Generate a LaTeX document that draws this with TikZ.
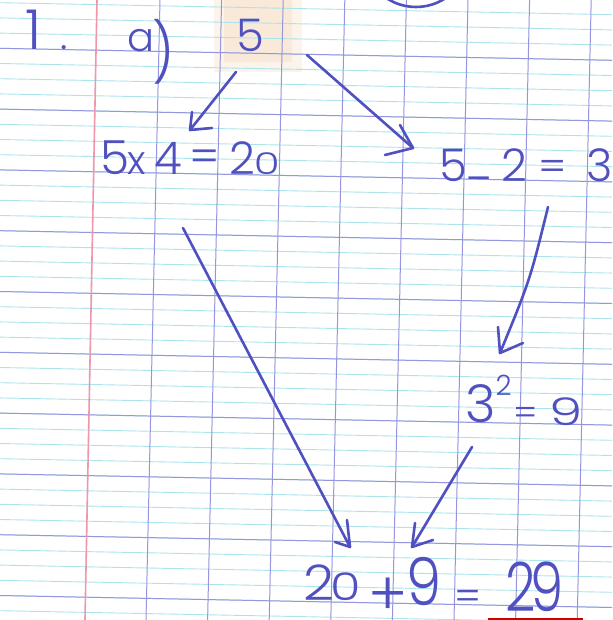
\documentclass[tikz,border=0pt]{standalone}
\usepackage{graphicx}
\usepackage{fontspec}
\setmainfont{Poppins}[UprightFont=* Light]
\definecolor{ink}{RGB}{80,80,192}
\definecolor{lightrule}{RGB}{172,228,236}
\definecolor{majorrule}{RGB}{150,150,222}
\definecolor{margin}{RGB}{238,150,170}
\definecolor{hilite}{RGB}{249,233,217}
\definecolor{hilitesoft}{RGB}{252,243,234}
% glyph centred at an offset (x right, y up) from the node origin, with size and horizontal scale
\newcommand{\gl}[5]{\makebox[0pt][l]{\hspace{#1pt}\raisebox{#2pt}{\makebox[0pt]{\scalebox{#4}[1]{\fontsize{#3}{#3}\selectfont #5}}}}}
\begin{document}
\begin{tikzpicture}[x=1pt,y=-1pt,
  lightline/.style={draw=lightrule,line width=0.9pt},
  majorline/.style={draw=majorrule,line width=1pt},
  penline/.style={draw=ink,line width=2.6pt,line cap=round,line join=round},
  handtext/.style={text=ink,inner sep=0pt,anchor=base west}]
\clip (0,0) rectangle (612,620);
\fill[white] (0,0) rectangle (612,620);
% highlight behind the 5
\fill[hilitesoft] (214,0) rectangle (302,72);
\fill[hilite] (224,0) rectangle (292,62);
% ruled paper
\foreach \i in {0,...,42}{
  \pgfmathsetmacro\yy{-12.5+15.2*\i}
  \draw[lightline] (0,\yy) -- (612,\yy+12);
}
\foreach \i in {0,...,10}{
  \pgfmathsetmacro\yy{-12.5+60.8*\i}
  \draw[majorline] (0,\yy) -- (612,\yy+12);
}
\foreach \i in {0,...,7}{
  \pgfmathsetmacro\xx{160+61.6*\i}
  \draw[majorline] (\xx,0) -- (\xx-14,620);
}
\draw[margin,line width=1.6pt] (97,0) -- (85,620);
\draw[red!80!black,line width=3pt] (488,619) -- (583,619);
% circle at top
\draw[penline] (416,-46.6) circle (53.6);
% texts
\node[handtext] (num) at (33,50) {\gl{0}{0}{55}{1}{1}\gl{30}{0}{40}{1}{.}};
\node[handtext] (part) at (140,52) {\gl{0}{0}{40}{1}{a}\gl{23}{-22}{58}{0.9}{)}};
\node[handtext] (start) at (250,52) {\gl{0}{0}{45}{1}{5}};
\node[handtext] (mult) at (114,175)
  {\gl{0}{0}{47}{1}{5}\gl{22}{0}{40}{1}{x}\gl{54}{0}{45}{1}{4}\gl{90}{2}{45}{1}{=}\gl{128}{0}{45}{1}{2}\gl{152}{0}{30}{1.4}{0}};
\node[handtext] (sub) at (453,182)
  {\gl{0}{0}{45}{1}{5}\gl{25}{6}{40}{1}{\_}\gl{61}{0}{45}{1}{2}\gl{99}{0}{42}{1}{=}\gl{146}{0}{45}{1}{3}};
\node[handtext] (sq) at (480,422)
  {\gl{0}{0}{52}{1}{3}\gl{23}{27}{28}{1}{2}\gl{45}{-3}{36}{1}{=}\gl{85}{-3}{38}{1.4}{9}};
\node[handtext] (sum) at (318,600)
  {\gl{0}{0}{49}{1.1}{2}\gl{27}{0}{38}{1.3}{0}\gl{69}{-15}{60}{1}{+}\gl{105}{-5}{66}{0.85}{9}\gl{149}{-10}{40}{1}{=}\gl{202}{-11}{68}{0.78}{2}\gl{228}{-11}{68}{0.78}{9}};
% arrow points
\coordinate (s1) at (236,72); \coordinate (t1) at (190,130);
\coordinate (b1a) at (192,112); \coordinate (b1b) at (212,128);
\coordinate (s2) at (307,55); \coordinate (t2) at (413,148);
\coordinate (b2a) at (400,125); \coordinate (b2b) at (385,155);
\coordinate (s3) at (548,207); \coordinate (t3) at (500,353);
\coordinate (c3) at (530,280);
\coordinate (b3a) at (498,327); \coordinate (b3b) at (523,343);
\coordinate (s4) at (183,228); \coordinate (t4) at (350,547);
\coordinate (b4a) at (347,520); \coordinate (b4b) at (335,542);
\coordinate (s5) at (472,447); \coordinate (t5) at (412,547);
\coordinate (b5a) at (415,523); \coordinate (b5b) at (433,540);
% arrows
\draw[penline] (s1) -- (t1); \draw[penline] (b1a) -- (t1) -- (b1b);
\draw[penline] (s2) -- (t2); \draw[penline] (b2a) -- (t2) -- (b2b);
\draw[penline] (s3) .. controls (c3) .. (t3); \draw[penline] (b3a) -- (t3) -- (b3b);
\draw[penline] (s4) -- (t4); \draw[penline] (b4a) -- (t4) -- (b4b);
\draw[penline] (s5) -- (t5); \draw[penline] (b5a) -- (t5) -- (b5b);
\end{tikzpicture}
\end{document}
